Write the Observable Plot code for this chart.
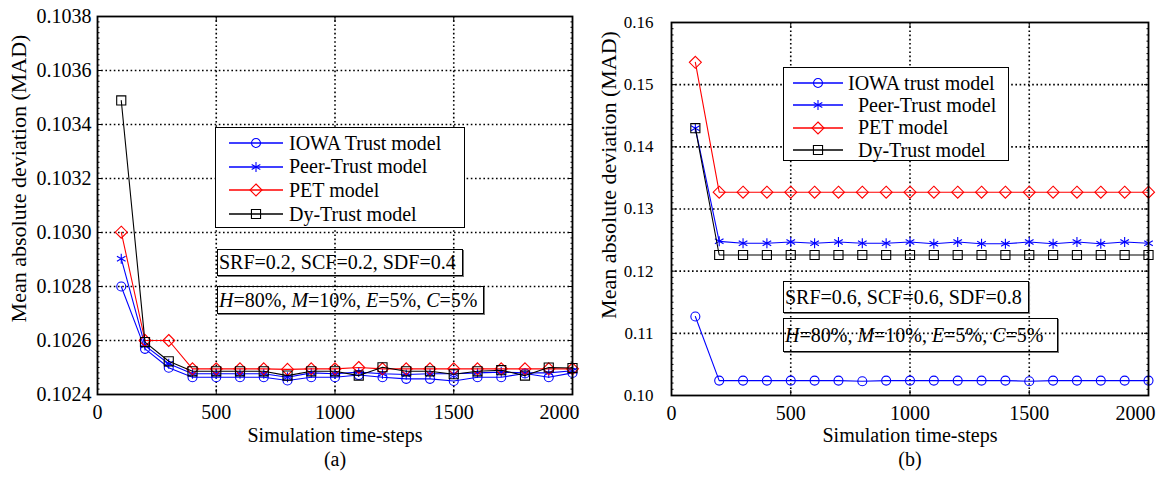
<!DOCTYPE html>
<html><head><meta charset="utf-8">
<script src="https://cdn.jsdelivr.net/npm/d3@7"></script>
<script src="https://cdn.jsdelivr.net/npm/@observablehq/plot@0.6"></script>
<style>
body{margin:0;background:#fff;}
#fig{position:relative;width:1164px;height:479px;font-family:"Liberation Serif","Times New Roman",serif;background:#fff;overflow:hidden;}
.panel{position:absolute;top:0;}
.legend{position:absolute;border:1.5px solid #000;background:#fff;box-sizing:border-box;}
.legend .row{position:absolute;left:0;display:flex;align-items:center;white-space:pre;color:#000;}
.legend svg{display:block;}
.note{position:absolute;border:1px solid #000;box-shadow:1px 1px 0 #777;box-sizing:border-box;white-space:pre;display:flex;align-items:center;padding-left:1px;color:#000;}
</style></head><body><div id="fig"></div>
<script>
// ---------- data ----------
const steps = [100,200,300,400,500,600,700,800,900,1000,1100,1200,1300,1400,1500,1600,1700,1800,1900,2000];
const seriesNames = ["IOWA", "Peer-Trust", "PET", "Dy-Trust"];
const seriesColors = ["#0000ff", "#0000ff", "#ff0000", "#000000"];
const seriesSymbols = ["circle", "asterisk", "diamond2", "square2"];

// panel (a)
const aIOWA = [0.102800,0.102569,0.102499,0.102464,0.102464,0.102464,0.102464,0.102452,0.102464,0.102464,0.102472,0.102464,0.102458,0.102458,0.102450,0.102464,0.102464,0.102478,0.102464,0.102480];
const aPeer = [0.102903,0.102581,0.102514,0.102477,0.102477,0.102477,0.102477,0.102464,0.102480,0.102477,0.102483,0.102477,0.102474,0.102477,0.102477,0.102480,0.102483,0.102480,0.102480,0.102488];
const aPET  = [0.103001,0.102600,0.102600,0.102495,0.102495,0.102495,0.102495,0.102493,0.102495,0.102495,0.102500,0.102495,0.102495,0.102495,0.102495,0.102495,0.102495,0.102495,0.102495,0.102495];
const aDy   = [0.103489,0.102594,0.102523,0.102486,0.102486,0.102486,0.102486,0.102470,0.102486,0.102486,0.102470,0.102501,0.102486,0.102486,0.102475,0.102486,0.102490,0.102470,0.102500,0.102498];

// panel (b)
const bIOWA = [0.1127,0.1024,0.1024,0.1024,0.1024,0.1024,0.1024,0.1023,0.1024,0.1024,0.1024,0.1024,0.1024,0.1024,0.1023,0.1024,0.1024,0.1024,0.1024,0.1024];
const bPeer = [0.1430,0.1248,0.1245,0.1245,0.1247,0.1245,0.1247,0.1245,0.1245,0.1247,0.1244,0.1247,0.1244,0.1244,0.1247,0.1244,0.1247,0.1244,0.1247,0.1245];
const bPET  = [0.1536,0.1327,0.1327,0.1327,0.1327,0.1327,0.1327,0.1327,0.1327,0.1327,0.1327,0.1327,0.1327,0.1327,0.1327,0.1327,0.1327,0.1327,0.1327,0.1327];
const bDy   = [0.1430,0.1226,0.1226,0.1226,0.1226,0.1226,0.1226,0.1226,0.1226,0.1226,0.1226,0.1226,0.1226,0.1226,0.1226,0.1226,0.1226,0.1226,0.1226,0.1226];

// ticks & labels
const xTicks = [0, 500, 1000, 1500, 2000];
const aYTicks = [0.1024,0.1026,0.1028,0.1030,0.1032,0.1034,0.1036,0.1038];
const bYTicks = [0.10,0.11,0.12,0.13,0.14,0.15,0.16];
const xLabel = "Simulation time-steps";
const yLabel = "Mean absolute deviation (MAD)";
const aLegend = ["IOWA Trust model", "Peer-Trust model", "PET model", "Dy-Trust model"];
const bLegend = ["IOWA trust model", "  Peer-Trust model", "  PET model", "  Dy-Trust model"];
const aNotes = ["SRF=0.2, SCF=0.2, SDF=0.4", "<i>H</i>=80%, <i>M</i>=10%, <i>E</i>=5%, <i>C</i>=5%"];
const bNotes = ["SRF=0.6, SCF=0.6, SDF=0.8", "<i>H</i>=80%, <i>M</i>=10%, <i>E</i>=5%, <i>C</i>=5%"];

// ---------- drawing ----------
const fig = document.getElementById("fig");
const fontFamily = '"Liberation Serif","Times New Roman",serif';

function minorTicks(ticks, n) {
  const out = [];
  for (let i = 0; i < ticks.length - 1; i++) {
    const step = (ticks[i+1] - ticks[i]) / n;
    for (let k = 1; k < n; k++) out.push(ticks[i] + k * step);
  }
  return out;
}

function panel(cfg) {
  const sets = cfg.series.map((arr, s) => steps.map((x, i) => ({x, y: arr[i], s})));
  const dash = {stroke: "#000", strokeOpacity: 1, strokeWidth: 1.6, strokeDasharray: "1.6,2.6"};
  const marks = [
    Plot.gridY(cfg.yTicks.slice(1, -1), dash),
    Plot.gridX([500, 1000, 1500], dash),
  ];
  sets.forEach((d, s) => {
    marks.push(Plot.line(d, {x: "x", y: "y", stroke: seriesColors[s], strokeWidth: 1.1}));
    marks.push(Plot.dot(d, {x: "x", y: "y", symbol: seriesSymbols[s], r: cfg.r[s], stroke: seriesColors[s], fill: "none", strokeWidth: 1.1}));
  });
  const yMinor = minorTicks(cfg.yTicks, cfg.yMinorN);
  const xFmt = d3.format("d");
  marks.push(
    Plot.frame({stroke: "#000", strokeWidth: 1.8}),
    Plot.axisY(cfg.yTicks, {anchor: "left", tickSize: 0, tickPadding: cfg.yPad, tickFormat: cfg.yFmt, label: null, fontSize: cfg.yFont}),
    Plot.axisY(cfg.yTicks, {anchor: "left", tickSize: -5, tickFormat: () => "", label: null}),
    Plot.axisY(cfg.yTicks, {anchor: "right", tickSize: -5, tickFormat: () => "", label: null}),
    Plot.axisY(yMinor, {anchor: "left", tickSize: -2.5, tickFormat: () => "", label: null}),
    Plot.axisY(yMinor, {anchor: "right", tickSize: -2.5, tickFormat: () => "", label: null}),
    Plot.axisX(xTicks.slice(0, -1), {anchor: "bottom", tickSize: 0, tickPadding: cfg.xPad, tickFormat: xFmt, label: null, fontSize: 20}),
    Plot.axisX(xTicks.slice(-1), {anchor: "bottom", tickSize: 0, tickPadding: cfg.xPad, tickFormat: xFmt, label: null, fontSize: 20, dx: -13}),
    Plot.axisX(xTicks, {anchor: "bottom", tickSize: -5, tickFormat: () => "", label: null}),
    Plot.axisX(xTicks, {anchor: "top", tickSize: -5, tickFormat: () => "", label: null}),
    Plot.text([xLabel], {frameAnchor: "bottom", dy: cfg.xLabDy, fontSize: 20, fill: "#000"}),
    Plot.text([cfg.caption], {frameAnchor: "bottom", dy: cfg.xLabDy + 24, fontSize: 20, fill: "#000"}),
    Plot.text([yLabel], {frameAnchor: "left", textAnchor: "middle", rotate: -90, dx: cfg.yLabDx, dy: cfg.yLabDy, fontSize: 22, fill: "#000"})
  );
  const svg = Plot.plot({
    width: 582, height: 479,
    marginLeft: cfg.ml, marginRight: cfg.mr, marginTop: cfg.mt, marginBottom: cfg.mb,
    x: {domain: [0, 2000]},
    y: {domain: [cfg.yTicks[0], cfg.yTicks[cfg.yTicks.length - 1]]},
    style: {fontFamily, fontSize: "20px", color: "#000", background: "transparent", overflow: "visible"},
    marks
  });
  svg.classList.add("panel");
  svg.style.left = cfg.left + "px";
  fig.appendChild(svg);

  // legend
  const lg = document.createElement("div");
  lg.className = "legend";
  Object.assign(lg.style, {left: cfg.legend.left + "px", top: cfg.legend.top + "px", width: cfg.legend.w + "px", height: cfg.legend.h + "px", fontSize: cfg.legend.font + "px"});
  cfg.legendLabels.forEach((label, s) => {
    const row = document.createElement("div");
    row.className = "row";
    row.style.top = (cfg.legend.row0 + s * cfg.legend.rowGap - 12) + "px";
    row.style.height = "24px";
    const sw = d3.create("svg").attr("width", cfg.legend.sw).attr("height", 24);
    sw.append("line").attr("x1", cfg.legend.lx0).attr("x2", cfg.legend.lx1).attr("y1", 12).attr("y2", 12)
      .attr("stroke", seriesColors[s]).attr("stroke-width", 1.3);
    const symType = {circle: d3.symbolCircle, asterisk: d3.symbolAsterisk, diamond2: d3.symbolDiamond2, square2: d3.symbolSquare2}[seriesSymbols[s]];
    sw.append("path").attr("d", d3.symbol(symType, Math.PI * cfg.r[s] * cfg.r[s])())
      .attr("transform", `translate(${(cfg.legend.lx0 + cfg.legend.lx1) / 2},12)`)
      .attr("fill", "none").attr("stroke", seriesColors[s]).attr("stroke-width", 1.1);
    row.appendChild(sw.node());
    const t = document.createElement("span");
    t.textContent = label;
    row.appendChild(t);
    lg.appendChild(row);
  });
  fig.appendChild(lg);

  // annotation boxes
  cfg.notes.forEach((html, i) => {
    const b = cfg.noteBoxes[i];
    const n = document.createElement("div");
    n.className = "note";
    n.innerHTML = html;
    Object.assign(n.style, {left: b[0] + "px", top: b[1] + "px", width: b[2] + "px", height: b[3] + "px", fontSize: "20px"});
    fig.appendChild(n);
  });
}

panel({
  left: 0, ml: 97, mr: 10, mt: 16, mb: 85,
  yTicks: aYTicks, yMinorN: 10, yFmt: d3.format(".4f"), yFont: 20, yPad: 6,
  xPad: 10, xLabDy: 47, yLabDx: -79, yLabDy: -27,
  series: [aIOWA, aPeer, aPET, aDy], r: [4.5, 4.7, 5.4, 5.8],
  caption: "(a)",
  legendLabels: aLegend,
  legend: {left: 215, top: 127, w: 250, h: 101, font: 20, row0: 15, rowGap: 23.7, sw: 73, lx0: 13, lx1: 67},
  notes: aNotes,
  noteBoxes: [[217, 249, 246, 27], [217, 286, 267, 28]]
});

panel({
  left: 582, ml: 89, mr: 16, mt: 22, mb: 84,
  yTicks: bYTicks, yMinorN: 10, yFmt: d3.format(".2f"), yFont: 17, yPad: 18,
  xPad: 10, xLabDy: 46, yLabDx: -63, yLabDy: -34,
  series: [bIOWA, bPeer, bPET, bDy], r: [4.5, 4.7, 5.4, 5.8],
  caption: "(b)",
  legendLabels: bLegend,
  legend: {left: 783, top: 67, w: 226, h: 94, font: 20, row0: 15, rowGap: 22.4, sw: 64, lx0: 9, lx1: 59},
  notes: bNotes,
  noteBoxes: [[783, 281, 246, 32], [783, 318, 275, 34]]
});
</script></body></html>
